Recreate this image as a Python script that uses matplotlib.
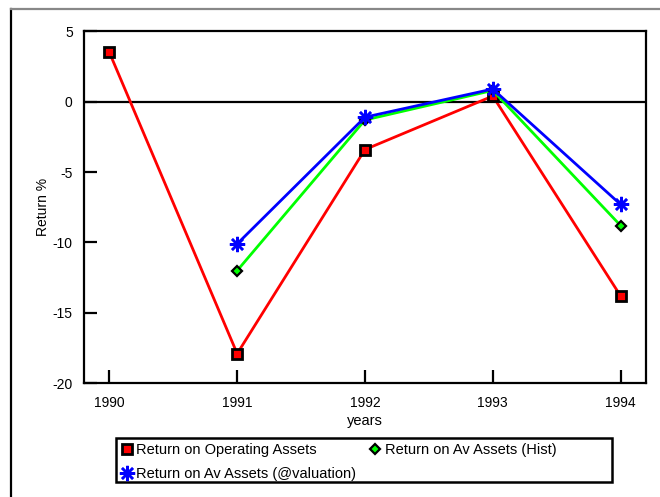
import matplotlib.pyplot as plt
from matplotlib.lines import Line2D
from matplotlib.patches import Rectangle

plt.rcParams['font.family'] = ['Liberation Sans', 'DejaVu Sans']
plt.rcParams['axes.unicode_minus'] = False

years = [1990, 1991, 1992, 1993, 1994]
op_assets = [3.5, -17.9, -3.4, 0.4, -13.8]
hist_years = [1991, 1992, 1993, 1994]
av_hist = [-12.0, -1.3, 0.8, -8.8]
av_val = [-10.1, -1.1, 0.9, -7.3]
yticks = [-20, -15, -10, -5, 0, 5]

fig = plt.figure(figsize=(6.6, 4.97), dpi=100)
ax = fig.add_axes([0.127, 0.229, 0.852, 0.708])

# zero line
ax.axhline(0, color='black', lw=1.6, zorder=1)

ax.plot(years, op_assets, color='#ff0000', lw=2, marker='s', ms=7.5,
        mfc='#ff0000', mec='black', mew=2, zorder=3)
ax.plot(hist_years, av_hist, color='#00ff00', lw=2, marker='D', ms=5,
        mfc='#00ff00', mec='black', mew=1.6, zorder=4)
ax.plot(hist_years, av_val, color='#0000ff', lw=2, marker=(8, 2, 0), ms=11,
        mec='#0000ff', mew=1.8, zorder=5)

ax.set_xlim(1989.8, 1994.2)
ax.set_ylim(-20, 5)
ax.set_xticks(years)
ax.set_yticks(yticks)
ax.tick_params(axis='both', direction='in', length=9.5, width=1.6,
               labelsize=10)
ax.tick_params(axis='x', pad=9)
ax.tick_params(axis='y', pad=8)
for s in ax.spines.values():
    s.set_linewidth(1.6)

ax.set_ylabel('Return %', fontsize=10, labelpad=2)
ax.set_xlabel('years', fontsize=10.5, labelpad=3)

# outer frame lines (left and top)
fig.add_artist(Line2D([11 / 660, 11 / 660], [0, 1 - 9 / 497], color='black',
                      lw=1.6, transform=fig.transFigure))
fig.add_artist(Line2D([11 / 660, 1], [1 - 9 / 497, 1 - 9 / 497], color='#888888',
                      lw=1.6, transform=fig.transFigure))

# legend box
fig.add_artist(Rectangle((116 / 660, 1 - 482 / 497), 496 / 660, 44 / 497,
                         fill=False, ec='black', lw=1.8,
                         transform=fig.transFigure))
handles = [
    Line2D([], [], ls='none', marker='s', ms=7.5, mfc='#ff0000', mec='black', mew=2),
    Line2D([], [], ls='none', marker=(8, 2, 0), ms=11, mec='#0000ff', mew=1.8),
    Line2D([], [], ls='none', marker='D', ms=5, mfc='#00ff00', mec='black', mew=1.6),
]
labels = ['Return on Operating Assets', 'Return on Av Assets (@valuation)',
          'Return on Av Assets (Hist)']
fig.legend(handles, labels, ncol=2, frameon=False, fontsize=10.5,
           loc='upper left', bbox_to_anchor=(118 / 660, 1 - 440 / 497),
           handlelength=0.8, handletextpad=0.25, columnspacing=0.9,
           borderpad=0.2, labelspacing=0.7, borderaxespad=0)

fig.savefig('out.png', dpi=100)
